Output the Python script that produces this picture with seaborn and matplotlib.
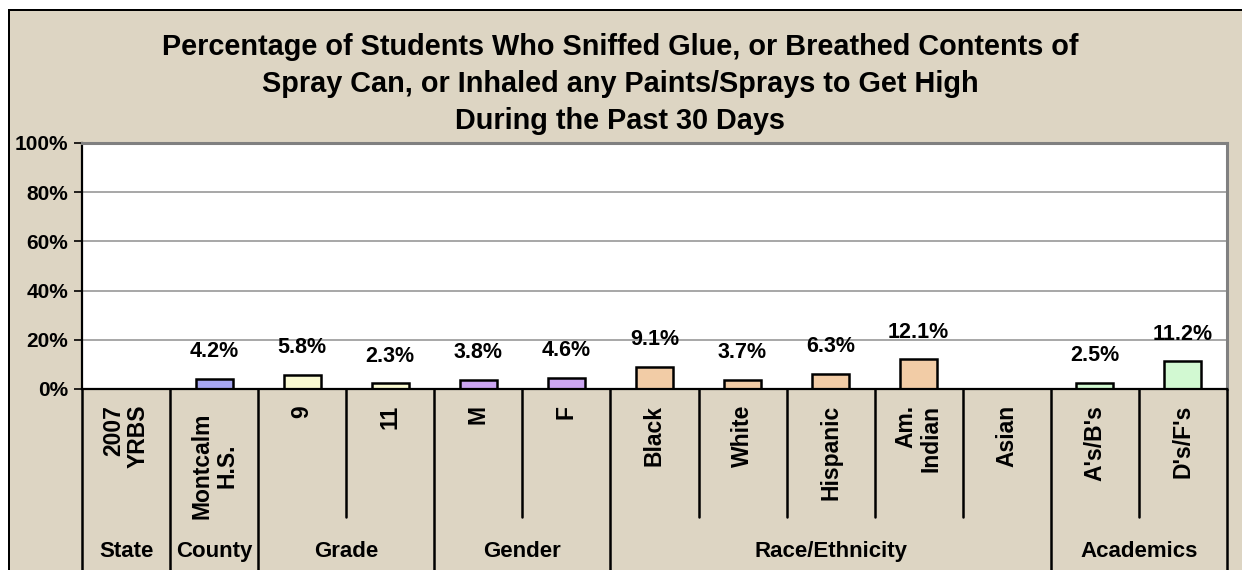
import numpy as np
import pandas as pd
import matplotlib
matplotlib.use("Agg")
import matplotlib.pyplot as plt
from matplotlib.patches import Rectangle
import seaborn as sns

# ---- data ----
categories = ["2007\nYRBS", "Montcalm\nH.S.", "9", "11", "M", "F",
              "Black", "White", "Hispanic", "Am.\nIndian", "Asian",
              "A's/B's", "D's/F's"]
values = [np.nan, 4.2, 5.8, 2.3, 3.8, 4.6, 9.1, 3.7, 6.3, 12.1, np.nan, 2.5, 11.2]
groups = ["State", "County", "Grade", "Gender", "Race/Ethnicity", "Academics"]
group_sizes = [1, 1, 2, 2, 5, 2]
group_colors = ["#9999FF", "#9999FF", "#FFFFCC", "#CC99FF", "#FFCC99", "#CCFFCC"]
yticks = [0, 20, 40, 60, 80, 100]
title = ("Percentage of Students Who Sniffed Glue, or Breathed Contents of\n"
         "Spray Can, or Inhaled any Paints/Sprays to Get High\n"
         "During the Past 30 Days")

# build per-category colours from groups
cat_colors = []
for c, n in zip(group_colors, group_sizes):
    cat_colors += [c] * n
df = pd.DataFrame({"cat": categories, "val": values})
palette = dict(zip(categories, cat_colors))

sns.set_theme(style="white")
plt.rcParams["font.family"] = ["Liberation Sans", "DejaVu Sans"]
plt.rcParams["font.weight"] = "bold"
plt.rcParams["text.color"] = "black"
plt.rcParams["ytick.color"] = "black"
plt.rcParams["ytick.labelcolor"] = "black"

W, H = 1242, 570
bg = "#DDD5C3"
fig = plt.figure(figsize=(W / 100, H / 100), dpi=100, facecolor=bg)

# white margin strips (top and left) and the black frame edges
fig.patches.append(Rectangle((0, 1 - 9 / H), 1, 9 / H, transform=fig.transFigure,
                             facecolor="white", edgecolor="none", zorder=-5))
fig.patches.append(Rectangle((0, 0), 8 / W, 1, transform=fig.transFigure,
                             facecolor="white", edgecolor="none", zorder=-5))
fig.patches.append(Rectangle((8 / W, 1 - 11 / H), 1 - 8 / W, 2 / H,
                             transform=fig.transFigure, facecolor="black",
                             edgecolor="none", zorder=-4))
fig.patches.append(Rectangle((8 / W, 0), 2 / W, 1 - 9 / H,
                             transform=fig.transFigure, facecolor="black",
                             edgecolor="none", zorder=-4))

ax = fig.add_axes([82 / W, 1 - 389 / H, (1227 - 82) / W, (389 - 143) / H])
ax.set_facecolor("white")

sns.barplot(data=df, x="cat", y="val", hue="cat", palette=palette,
            order=categories, hue_order=categories, legend=False,
            width=0.42, edgecolor="black", linewidth=1.8, ax=ax, zorder=3)

ax.set_xlim(-0.5, len(categories) - 0.5)
ax.set_ylim(0, 100)
ax.set_yticks(yticks)
ax.set_yticklabels([f"{t}%" for t in yticks], fontsize=15, fontweight="bold",
                   color="black")
ax.tick_params(axis="y", which="both", left=True, length=6, width=1.2,
               color="black", pad=4)
ax.set_xticks([])
ax.set_xlabel("")
ax.set_ylabel("")
ax.yaxis.grid(True, color="#A0A0A0", lw=1.3)
ax.set_axisbelow(True)
for s in ["top", "right"]:
    ax.spines[s].set_color("#808080")
    ax.spines[s].set_linewidth(2.2)
for s in ["left", "bottom"]:
    ax.spines[s].set_color("black")
    ax.spines[s].set_linewidth(1.6)
ax.spines["bottom"].set_zorder(5)

# value labels
for cont in ax.containers:
    labs = [("" if not np.isfinite(b.get_height()) else f"{b.get_height():.1f}%")
            for b in cont]
    ax.bar_label(cont, labels=labs, padding=12, fontsize=15.5, fontweight="bold",
                 color="black")

# category table below the axis
tr = ax.get_xaxis_transform()
bounds = np.cumsum([0] + group_sizes)
for i in range(len(categories) + 1):
    xb = i - 0.5
    y_end = -0.80 if i in bounds else -0.52
    ax.plot([xb, xb], [0, y_end], transform=tr, color="black", lw=1.8,
            clip_on=False, zorder=5)

for i, lab in enumerate(categories):
    ma = "center" if lab.startswith("Montcalm") else "right"
    yy = -0.095 if lab.startswith("Montcalm") else -0.065
    ax.text(i, yy, lab, transform=tr, rotation=90, ha="center", va="top",
            multialignment=ma, fontsize=16.5, fontweight="bold", linespacing=1.1,
            color="black")

for g, a, b in zip(groups, bounds[:-1], bounds[1:]):
    ax.text((a + b - 1) / 2, -0.659, g, transform=tr, ha="center", va="center",
            fontsize=16, fontweight="bold", color="black")

fig.text(620 / W, 1 - 84 / H, title, ha="center", va="center",
         fontsize=20.8, fontweight="bold", linespacing=1.42, color="black")

fig.savefig("out.png", dpi=100, facecolor=bg, edgecolor="none")
